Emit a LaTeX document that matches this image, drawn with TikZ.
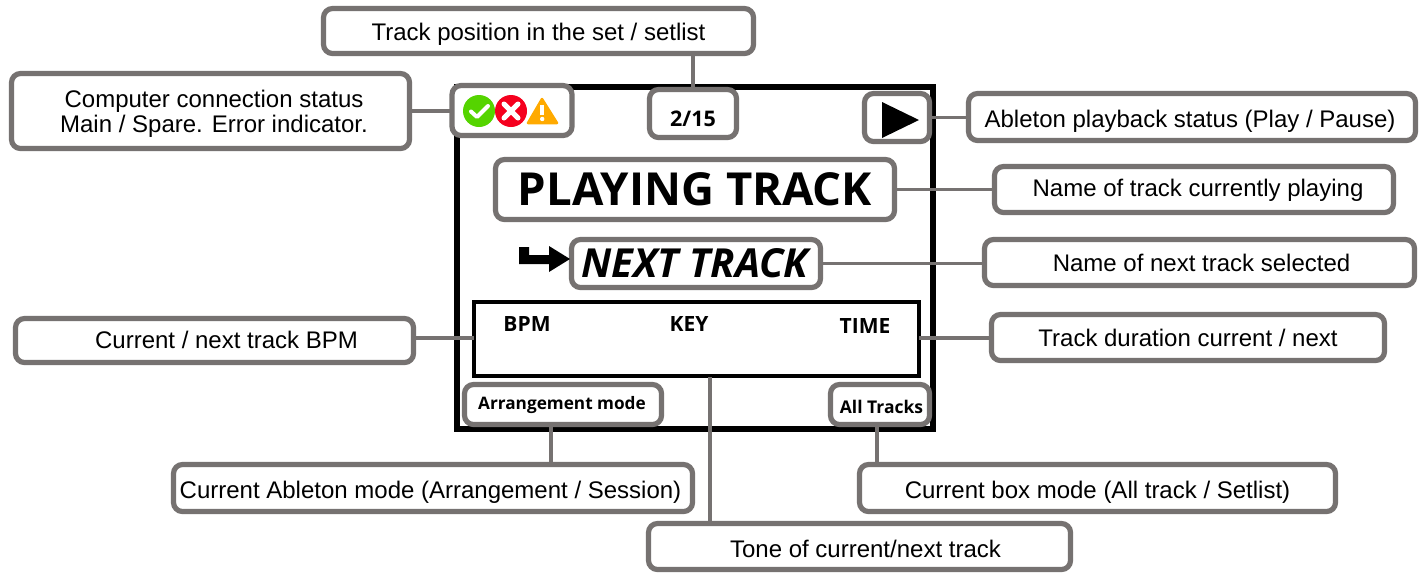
\documentclass[tikz,border=0pt]{standalone}
\usepackage{fontspec}
\usetikzlibrary{backgrounds}
\setmainfont{Liberation Sans}
\newfontfamily\dispfont{Open Sans}
\definecolor{boxgrey}{HTML}{767271}
\definecolor{okgreen}{RGB}{85,212,0}
\definecolor{errred}{RGB}{245,0,30}
\definecolor{warnorange}{RGB}{255,170,0}
\tikzset{
  x=1pt,y=-1pt,
  outline/.style={draw=boxgrey,line width=5.2pt,rounded corners=9pt,fill=white,inner sep=0pt,outer sep=0pt,anchor=center,align=center},
  labelbox/.style={outline,font=\fontsize{24}{25.5}\selectfont,text height=18pt,text depth=0pt},
  link/.style={draw=boxgrey,line width=3.4pt},
  dtext/.style={font=\dispfont\bfseries\fontsize{#1}{#1}\selectfont,inner sep=0pt,text=black},
  ditext/.style={font=\dispfont\bfseries\itshape\fontsize{#1}{#1}\selectfont,inner sep=0pt,text=black},
  dimbox/.style 2 args={minimum width=#1pt,minimum height=#2pt},
  screenline/.style={draw=black,line join=miter,inner sep=0pt,outer sep=0pt}
}
\begin{document}
\begin{tikzpicture}
\useasboundingbox (0,0) rectangle (1419,574);
% boxes
\node[labelbox,dimbox={430}{45}] (track) at (538.5,31) {Track position in the set / setlist};
\node[outline,dimbox={398}{75}] (comp) at (210.5,111) {};
\node[font=\fontsize{24}{25.5}\selectfont,align=center,inner sep=0pt] (compText) at (214,114) {Computer connection status\\Main / Spare. Error indicator.};
\node[outline,dimbox={120}{50}] (icons) at (512,110.5) {};
\node[outline,dimbox={87}{48}] (pos) at (693,113.5) {};
\node[outline,dimbox={65}{48}] (playb) at (897,117.5) {};
\node[labelbox,dimbox={447}{47},text height=20pt] (abl) at (1192,117) {Ableton playback status (Play / Pause)\hspace*{4pt}};
\node[outline,dimbox={399}{60}] (cur) at (695,189.5) {};
\node[labelbox,dimbox={399}{46},text height=14pt] (ncur) at (1194,189.5) {\hspace*{8pt}Name of track currently playing};
\node[outline,dimbox={249}{48}] (next) at (696,263.5) {};
\node[labelbox,dimbox={430}{46}] (nnext) at (1199.5,262.5) {\hspace*{4pt}Name of next track selected};
\node[labelbox,dimbox={398}{44},text height=16pt] (bpm) at (214.5,340.5) {\hspace*{24pt}Current / next track BPM};
\node[labelbox,dimbox={393}{46}] (dur) at (1188,337.5) {Track duration current / next};
\node[outline,dimbox={197}{40}] (arr) at (563,404.5) {};
\node[outline,dimbox={99}{40}] (all) at (880,404.5) {};
\node[labelbox,dimbox={519}{47},text height=20pt] (cam) at (433,488) {Current Ableton mode (Arrangement / Session)\hspace*{5pt}};
\node[labelbox,dimbox={476}{47},text height=20pt] (cbm) at (1097.5,488) {Current box mode (All track / Setlist)};
\node[labelbox,dimbox={422}{46},text height=22pt] (tone) at (859.5,546.5) {\hspace*{12pt}Tone of current/next track};
% screen and connectors beneath the boxes
\begin{scope}[on background layer]
\fill[white] (0,0) rectangle (1419,574);
\node[screenline,line width=6pt,minimum width=476pt,minimum height=342pt] (screen) at (695,258) {};
\node[screenline,line width=4pt,minimum width=445pt,minimum height=74pt] (panel) at (696.5,339) {};
\coordinate (bpmEnd) at (bpm.east |- 0,338);
\coordinate (durEnd) at (dur.west |- 0,338);
\coordinate (toneTop) at (710,377);
\coordinate (arrFoot) at (551,427);
\coordinate (allFoot) at (877,427);
\draw[link] (track.south -| pos.north) -- (pos.north);
\draw[link] (comp.east) -- (comp.east -| icons.west);
\draw[link] (playb.east) -- (playb.east -| abl.west);
\draw[link] (cur.east) -- (cur.east -| ncur.west);
\draw[link] (next.east) -- (next.east -| nnext.west);
\draw[link] (bpmEnd) -- (bpmEnd -| panel.west);
\draw[link] (bpmEnd -| panel.east) -- (durEnd);
\draw[link] (toneTop) -- (toneTop |- tone.north);
\draw[link] (arrFoot) -- (arrFoot |- cam.north);
\draw[link] (allFoot) -- (allFoot |- cbm.north);
\end{scope}
% display texts
\node[dtext=21.5] (t215) at (693,119) {2/15};
\node[dtext=45.5] (tplay) at (695,189) {PLAYING TRACK};
\node[ditext=40] (tnext) at (695,263) {NEXT TRACK};
\node[dtext=21] (tb) at (527,324) {BPM};
\node[dtext=21] (tk) at (689,324) {KEY};
\node[dtext=21] (tt) at (865,326) {TIME};
\node[dtext=17.2] (tarr) at (562,405.5) {Arrangement mode};
\node[dtext=17.5] (tall) at (881.5,407) {All Tracks};
% icons
\fill[okgreen] (479,111) circle (16);
\fill[errred] (511,111) circle (16);
\draw[white,line width=4pt,line cap=round,line join=round] (471,111.5) -- (477,117) -- (488,106);
\draw[white,line width=5pt,line cap=round] (504,104) -- (518,118) (518,104) -- (504,118);
\fill[warnorange,draw=warnorange,line width=2.5pt,line join=round] (542,99) -- (557,123) -- (528,123) -- cycle;
\fill[white] (540.4,105) rectangle (544,115);
\fill[white] (542.2,119) circle (2.2);
% play triangle
\fill[black] (882,102) -- (919,120) -- (882,138) -- cycle;
% bent arrow
\fill[black] (519,247) -- (529,247) -- (529,255) -- (549,255) -- (549,246) -- (570,259) -- (549,272) -- (549,264) -- (519,264) -- cycle;
\end{tikzpicture}
\end{document}
